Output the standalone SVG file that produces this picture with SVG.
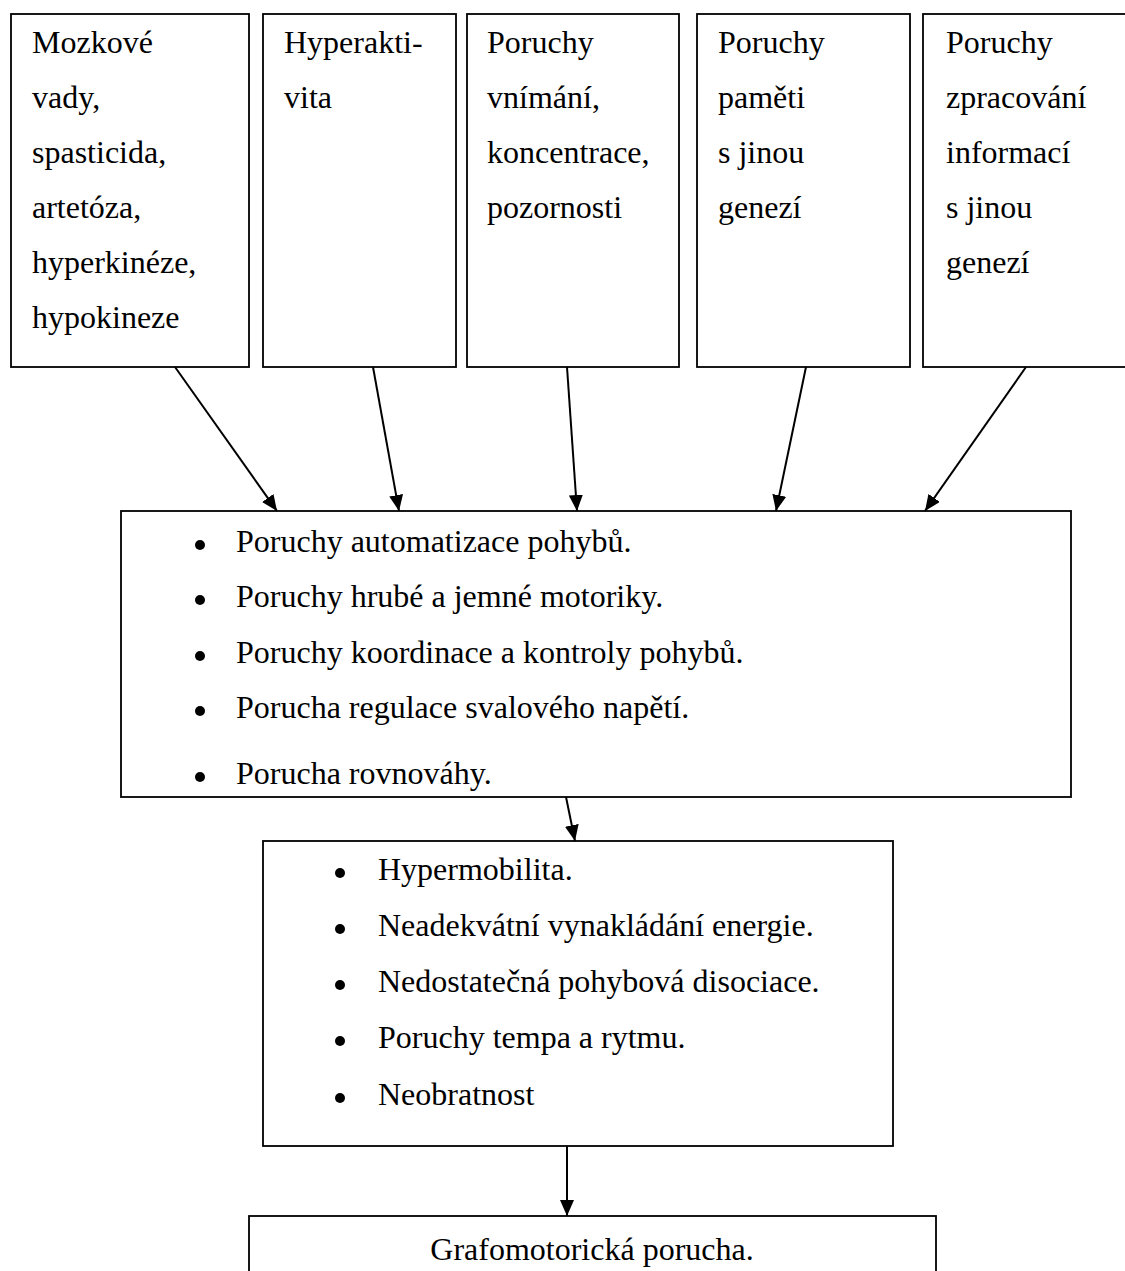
<svg xmlns="http://www.w3.org/2000/svg" width="1125" height="1271" viewBox="0 0 1125 1271">
<style>
.box{fill:#fff;stroke:#000;stroke-width:1.8}
.t{font-family:"Liberation Serif","Times New Roman",serif;font-size:32px;fill:#000}
.tc{text-anchor:middle}
.bul{fill:#000}
.con{stroke:#000;stroke-width:2;fill:none;marker-end:url(#ah)}
</style>
<defs>
<marker id="ah" markerUnits="userSpaceOnUse" markerWidth="16" markerHeight="14" refX="16" refY="7" orient="auto">
<path d="M0,0 L16,7 L0,14 z" fill="#000"/>
</marker>
</defs>
<rect width="1125" height="1271" fill="#fff"/>
<g id="n1">
<rect class="box" x="11" y="14" width="238" height="353"/>
<text class="t" x="32" y="53">Mozkové</text>
<text class="t" x="32" y="108">vady,</text>
<text class="t" x="32" y="163">spasticida,</text>
<text class="t" x="32" y="218">artetóza,</text>
<text class="t" x="32" y="273">hyperkinéze,</text>
<text class="t" x="32" y="328">hypokineze</text>
</g>
<g id="n2">
<rect class="box" x="263" y="14" width="193" height="353"/>
<text class="t" x="284" y="53">Hyperakti-</text>
<text class="t" x="284" y="108">vita</text>
</g>
<g id="n3">
<rect class="box" x="467" y="14" width="212" height="353"/>
<text class="t" x="487" y="53">Poruchy</text>
<text class="t" x="487" y="108">vnímání,</text>
<text class="t" x="487" y="163">koncentrace,</text>
<text class="t" x="487" y="218">pozornosti</text>
</g>
<g id="n4">
<rect class="box" x="697" y="14" width="213" height="353"/>
<text class="t" x="718" y="53">Poruchy</text>
<text class="t" x="718" y="108">paměti</text>
<text class="t" x="718" y="163">s jinou</text>
<text class="t" x="718" y="218">genezí</text>
</g>
<g id="n5">
<rect class="box" x="923" y="14" width="210" height="353"/>
<text class="t" x="946" y="53">Poruchy</text>
<text class="t" x="946" y="108">zpracování</text>
<text class="t" x="946" y="163">informací</text>
<text class="t" x="946" y="218">s jinou</text>
<text class="t" x="946" y="273">genezí</text>
</g>
<g id="n6">
<rect class="box" x="121" y="511" width="950" height="286"/>
<circle class="bul" cx="200" cy="545" r="5"/>
<text class="t" x="236" y="552">Poruchy automatizace pohybů.</text>
<circle class="bul" cx="200" cy="600" r="5"/>
<text class="t" x="236" y="607">Poruchy hrubé a jemné motoriky.</text>
<circle class="bul" cx="200" cy="656" r="5"/>
<text class="t" x="236" y="663">Poruchy koordinace a kontroly pohybů.</text>
<circle class="bul" cx="200" cy="711" r="5"/>
<text class="t" x="236" y="718">Porucha regulace svalového napětí.</text>
<circle class="bul" cx="200" cy="777" r="5"/>
<text class="t" x="236" y="784">Porucha rovnováhy.</text>
</g>
<g id="n7">
<rect class="box" x="263" y="841" width="630" height="305"/>
<circle class="bul" cx="340" cy="873" r="5"/>
<text class="t" x="378" y="880">Hypermobilita.</text>
<circle class="bul" cx="340" cy="929" r="5"/>
<text class="t" x="378" y="936">Neadekvátní vynakládání energie.</text>
<circle class="bul" cx="340" cy="985" r="5"/>
<text class="t" x="378" y="992">Nedostatečná pohybová disociace.</text>
<circle class="bul" cx="340" cy="1041" r="5"/>
<text class="t" x="378" y="1048">Poruchy tempa a rytmu.</text>
<circle class="bul" cx="340" cy="1098" r="5"/>
<text class="t" x="378" y="1105">Neobratnost</text>
</g>
<g id="n8">
<rect class="box" x="249" y="1216" width="687" height="80"/>
<text class="t tc" x="592" y="1260">Grafomotorická porucha.</text>
</g>
<g id="connectors">
<line class="con" x1="175" y1="367" x2="277" y2="511"/>
<line class="con" x1="373" y1="367" x2="399" y2="511"/>
<line class="con" x1="567" y1="367" x2="577" y2="511"/>
<line class="con" x1="806" y1="367" x2="776" y2="511"/>
<line class="con" x1="1026" y1="367" x2="925" y2="511"/>
<line class="con" x1="566" y1="797" x2="575" y2="841"/>
<line class="con" x1="567" y1="1146" x2="567" y2="1216"/>
</g>
</svg>
